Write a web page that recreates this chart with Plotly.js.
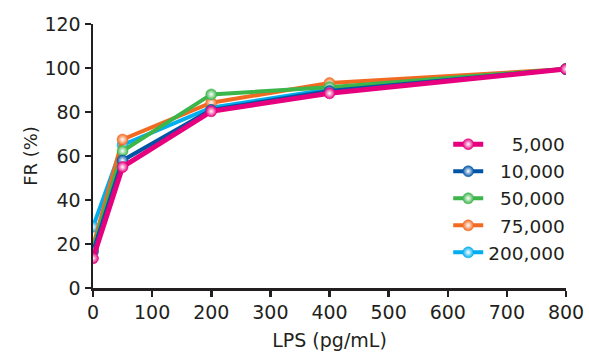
<!DOCTYPE html>
<html>
<head>
<meta charset="utf-8">
<script src="https://cdn.plot.ly/plotly-3.0.1.min.js"></script>
<style>html,body{margin:0;padding:0;background:#fff;}</style>
</head>
<body>
<div id="chart" style="width:589px;height:358px;"></div>
<script>
const lps = [0, 50, 200, 400, 800];
const seriesNames = ["5,000", "10,000", "50,000", "75,000", "200,000"];
const fr5000 = [13.5, 55, 80.3, 88.5, 99.5];
const fr10000 = [16.5, 58, 81, 89.5, 99.5];
const fr50000 = [17.5, 62.3, 88, 91.3, 99.5];
const fr75000 = [19, 67.5, 84.2, 93.2, 99.5];
const fr200000 = [27.8, 65, 82, 90.3, 99.5];
const colors = ["#e6007e", "#0054a6", "#3cb54a", "#f26a21", "#00aeef"];
const values = [fr5000, fr10000, fr50000, fr75000, fr200000];

const FS = "\u2007";
function padLabel(s) {
  const n = 7 - s.length;
  return FS.repeat(Math.max(0, n)) + s;
}

const traces = [];
for (let i = values.length - 1; i >= 0; i--) {
  traces.push({
    x: lps,
    y: values[i],
    name: padLabel(seriesNames[i]),
    type: "scatter",
    mode: "lines+markers",
    line: {color: colors[i], width: i === 0 ? 5 : 4},
    marker: {
      color: colors[i],
      size: 11,
      gradient: {type: "radial", color: "#ffffff"},
      line: {color: colors[i], width: 0.5}
    }
  });
}

const fontFam = "'DejaVu Sans', sans-serif";
const layout = {
  width: 589,
  height: 358,
  margin: {l: 93, r: 23, t: 24, b: 70},
  paper_bgcolor: "#ffffff",
  plot_bgcolor: "#ffffff",
  font: {family: fontFam, color: "#231f20", size: 19},
  showlegend: true,
  legend: {
    x: 0.751, y: 0.615, xanchor: "left", yanchor: "top",
    traceorder: "reversed",
    font: {family: fontFam, size: 18.5, color: "#231f20"},
    bgcolor: "rgba(0,0,0,0)",
    itemwidth: 30,
    tracegroupgap: 0
  },
  xaxis: {
    range: [0, 800],
    tickvals: [0, 100, 200, 300, 400, 500, 600, 700, 800],
    showgrid: false, zeroline: false,
    showline: true, linecolor: "#231f20", linewidth: 2.5,
    ticks: "outside", ticklen: 6, tickwidth: 2.5, tickcolor: "#231f20",
    tickfont: {size: 19},
    title: {text: "LPS (pg/mL)", font: {size: 19}, standoff: 12}
  },
  yaxis: {
    range: [0, 120],
    tickvals: [0, 20, 40, 60, 80, 100, 120],
    showgrid: false, zeroline: false,
    showline: true, linecolor: "#231f20", linewidth: 2.5,
    ticks: "outside", ticklen: 6, tickwidth: 2.5, tickcolor: "#231f20",
    tickfont: {size: 19},
    title: {text: "FR (%)", font: {size: 18}, standoff: 2}
  }
};

Plotly.newPlot("chart", traces, layout, {displayModeBar: false, staticPlot: true});
</script>
</body>
</html>
